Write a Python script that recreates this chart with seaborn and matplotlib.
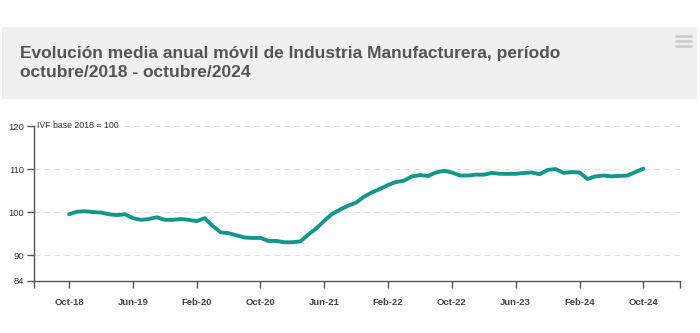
import numpy as np
import pandas as pd
import matplotlib
matplotlib.use("Agg")
import matplotlib.pyplot as plt
from matplotlib.patches import Rectangle
import seaborn as sns

# Monthly rolling annual average, Oct-2018 .. Oct-2024 (73 months)
ivf_values = [
    99.5, 100.1, 100.2, 100.0, 99.9, 99.5, 99.3, 99.5, 98.6, 98.2,
    98.4, 98.8, 98.2, 98.2, 98.4, 98.2, 97.9, 98.6, 96.8, 95.3,
    95.1, 94.6, 94.1, 94.0, 94.0, 93.3, 93.3, 93.0, 93.0, 93.2,
    94.8, 96.2, 98.0, 99.6, 100.6, 101.5, 102.2, 103.6, 104.6, 105.4,
    106.3, 107.0, 107.3, 108.3, 108.6, 108.4, 109.2, 109.6, 109.2, 108.5,
    108.5, 108.7, 108.7, 109.1, 108.9, 108.9, 108.9, 109.1, 109.2, 108.8,
    109.8, 110.0, 109.1, 109.3, 109.2, 107.7, 108.3, 108.5, 108.3, 108.4,
    108.5, 109.3, 110.1,
]
month_index = list(range(len(ivf_values)))
x_tick_positions = [0, 8, 16, 24, 32, 40, 48, 56, 64, 72]
x_tick_labels = ["Oct-18", "Jun-19", "Feb-20", "Oct-20", "Jun-21",
                 "Feb-22", "Oct-22", "Jun-23", "Feb-24", "Oct-24"]
y_ticks = [84, 90, 100, 110, 120]
grid_levels = [90, 100, 110, 120]

title = "Evolución media anual móvil de Industria Manufacturera, período\noctubre/2018 - octubre/2024"
unit_note = "IVF base 2018 = 100"

df = pd.DataFrame({"mes": month_index, "ivf": ivf_values})

sns.set_theme(style="white")
plt.rcParams["font.family"] = ["Liberation Sans", "DejaVu Sans"]

fig = plt.figure(figsize=(7.0, 3.33), dpi=100)

# Title banner
fig.patches.append(Rectangle((2 / 700, 1 - 99 / 333), 695 / 700, 72 / 333,
                             transform=fig.transFigure, facecolor="#f0f0f0",
                             edgecolor="none", zorder=0))
fig.text(20 / 700, 1 - 63 / 333, title, ha="left", va="center",
         fontsize=12.5, fontweight="bold", color="#555555", linespacing=1.35)
# menu icon
for yy in (36, 41, 46):
    fig.add_artist(plt.Line2D([676 / 700, 691 / 700], [1 - yy / 333, 1 - yy / 333],
                              transform=fig.transFigure, color="#c8c8c8", lw=1.8))

ax = fig.add_axes([34 / 700, 52 / 333, 646 / 700, 155 / 333])
sns.lineplot(data=df, x="mes", y="ivf", ax=ax, color="#14978a", linewidth=2.8,
             solid_capstyle="round", solid_joinstyle="round")

for g in grid_levels:
    ax.axhline(g, color="#e0e0e0", lw=0.8, ls=(0, (5, 4)), zorder=0)

ax.set_xlim(-4.4, 76.6)
ax.set_ylim(84, 120)
ax.set_yticks(y_ticks)
ax.set_yticklabels([str(v) for v in y_ticks], fontsize=6.8, color="#333333")
ax.set_xticks(x_tick_positions)
ax.set_xticklabels(x_tick_labels, fontsize=6.8, color="#444444", fontweight="bold")
ax.set_xticks([-4.4, 76.6], minor=True)
ax.tick_params(axis="x", which="both", direction="out", length=5, width=1,
               color="#555555", pad=7, bottom=True)
ax.tick_params(axis="y", direction="out", length=5, width=1, color="#555555",
               pad=2, left=True)
ax.set_xlabel("")
ax.set_ylabel("")
for side in ("top", "right"):
    ax.spines[side].set_visible(False)
for side in ("left", "bottom"):
    ax.spines[side].set_color("#555555")
    ax.spines[side].set_linewidth(1)

ax.text(0.005, 1.0, unit_note, transform=ax.transAxes, ha="left", va="center",
        fontsize=6.3, color="#333333")

fig.savefig("out.png", dpi=100)
